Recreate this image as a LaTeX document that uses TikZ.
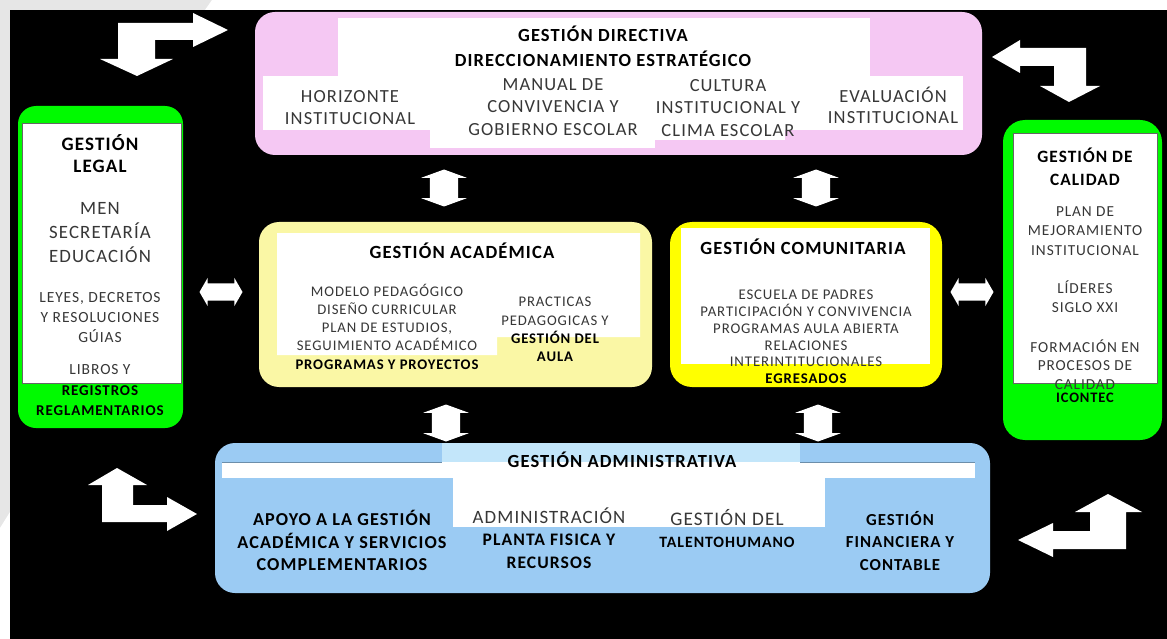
\documentclass[tikz,border=0pt]{standalone}
\usepackage{fontspec}
\setmainfont{Carlito}[LetterSpace=6]
\usetikzlibrary{shapes.arrows}
\newcommand\fsz[2]{\fontsize{#1}{#2}\selectfont}
\definecolor{dirpink}{RGB}{245,200,243}
\definecolor{calgreen}{RGB}{0,250,0}
\definecolor{acayellow}{RGB}{250,247,165}
\definecolor{comyellow}{RGB}{255,255,0}
\definecolor{admblue}{RGB}{155,203,243}
\definecolor{admband}{RGB}{195,230,250}
\definecolor{framegray}{RGB}{230,230,230}
\definecolor{txtgray}{RGB}{55,55,55}
\tikzset{
	lbl/.style={align=center, inner sep=0pt, text=txtgray},
	hdlbl/.style={align=center, inner sep=0pt, text=black, font=\bfseries#1},
	vdarrow/.style={double arrow, fill=white, rotate=90, minimum height=37pt, inner xsep=0pt, inner ysep=14pt, double arrow head extend=8.5pt, double arrow tip angle=140},
	hdarrow/.style={double arrow, fill=white, minimum height=43pt, inner xsep=0pt, inner ysep=8.5pt, double arrow head extend=5.5pt, double arrow tip angle=120}
}

\begin{document}
\begin{tikzpicture}[x=1pt, y=-1pt]
		%%%%% START %%%%%
		\useasboundingbox (0,0) rectangle (1167,639);
		\fill[framegray] (0,0) rectangle (1167,639);
		\fill[white] (205,10) -- (212,0) -- (1167,0) -- (1167,10) -- cycle;
		\fill[white] (0,528) -- (10,512) -- (10,639) -- (0,639) -- cycle;
		\fill[black] (10,10) rectangle (1167,639);
		
		% gestion directiva
		\fill[dirpink, rounded corners=20pt] (255,12) rectangle (982,155);
		\fill[white] (338,18) rectangle (870,80);
		\fill[white] (263,76) rectangle (963,130);
		\fill[white] (430,128) rectangle (655,148);
		\fill[white] (655,128) rectangle (785,140);
		\node[hdlbl=\fsz{18.5}{25}] (dirtitle) at (603,46.5) {GESTIÓN DIRECTIVA\\DIRECCIONAMIENTO ESTRATÉGICO};
		\node[lbl, font=\fsz{18.5}{22}] (dirhorizonte) at (350,108) {HORIZONTE\\INSTITUCIONAL};
		\node[lbl, font=\fsz{18.5}{22.5}] (dirmanual) at (553,107) {MANUAL DE\\CONVIVENCIA Y\\GOBIERNO ESCOLAR};
		\node[lbl, font=\fsz{18.5}{22.5}] (dircultura) at (728,108) {CULTURA\\INSTITUCIONAL Y\\CLIMA ESCOLAR};
		\node[lbl, font=\fsz{18.5}{21}] (direvaluacion) at (893,105.5) {EVALUACIÓN\\INSTITUCIONAL};
		
		% gestion legal
		\fill[calgreen, rounded corners=18pt] (18,106) rectangle (183,428);
		\draw[fill=white, draw=black!60] (22,123) rectangle (181,383);
		\node[hdlbl=\fsz{19}{22}] (legalhd) at (100,154) {GESTIÓN\\LEGAL};
		\node[lbl, font=\fsz{18.8}{24}] (legalmen) at (100,233) {MEN\\SECRETARÍA\\EDUCACIÓN};
		\node[lbl, font=\fsz{15.5}{20}] (legalleyes) at (100,318) {LEYES, DECRETOS\\Y RESOLUCIONES\\GÚIAS};
		\node[lbl, font=\fsz{15.5}{20}] (legallibros) at (100,370) {LIBROS Y};
		\node[hdlbl=\fsz{15}{20}] (legalreg) at (100,401) {REGISTROS\\REGLAMENTARIOS};
		
		% gestion de calidad
		\fill[calgreen, rounded corners=22pt] (1003,120) rectangle (1162,440);
		\draw[fill=white, draw=black!60] (1013,133) rectangle (1157,383);
		\node[hdlbl=\fsz{17.3}{23}] (calhd) at (1085,166.5) {GESTIÓN DE\\CALIDAD};
		\node[lbl, font=\fsz{15.3}{19.5}] (calplan) at (1085,231) {PLAN DE\\MEJORAMIENTO\\INSTITUCIONAL};
		\node[lbl, font=\fsz{15.3}{19}] (callideres) at (1085,296.5) {LÍDERES\\SIGLO XXI};
		\node[lbl, font=\fsz{15.3}{18.5}] (calformacion) at (1085,364.5) {FORMACIÓN EN\\PROCESOS DE\\CALIDAD};
		\node[hdlbl=\fsz{14.5}{19}] (calicontec) at (1085,398) {ICONTEC};
		
		% gestion academica
		\fill[acayellow, rounded corners=20pt] (259,222) rectangle (652,387);
		\fill[white] (277,233) -- (640,233) -- (640,337) -- (497,337) -- (497,355) -- (277,355) -- cycle;
		\node[hdlbl=\fsz{18.6}{20}] (acahd) at (462,251) {GESTIÓN ACADÉMICA};
		\node[lbl, font=\fsz{14.7}{18.25}] (acalist) at (387,326.5) {MODELO PEDAGÓGICO\\DISEÑO CURRICULAR\\PLAN DE ESTUDIOS,\\SEGUIMIENTO ACADÉMICO\\\textcolor{black}{\bfseries PROGRAMAS Y PROYECTOS}};
		\node[lbl, font=\fsz{14.7}{18.3}] (acapracticas) at (555,329.5) {PRACTICAS\\PEDAGOGICAS Y\\\textcolor{black}{\bfseries GESTIÓN DEL}\\\textcolor{black}{\bfseries AULA}};
		
		% gestion comunitaria
		\fill[comyellow, rounded corners=22pt] (670,222) rectangle (942,387);
		\fill[white] (681,228) rectangle (930,364);
		\node[hdlbl=\fsz{18.6}{20}] (comhd) at (803,247) {GESTIÓN COMUNITARIA};
		\node[lbl, font=\fsz{14.8}{16.8}] (comlist) at (806,337) {ESCUELA DE PADRES\\PARTICIPACIÓN Y CONVIVENCIA\\PROGRAMAS AULA ABIERTA\\RELACIONES\\INTERINTITUCIONALES\\\textcolor{black}{\bfseries EGRESADOS}};
		
		% gestion administrativa
		\fill[admblue, rounded corners=20pt] (215,443) rectangle (990,593);
		\fill[admband] (442,443) rectangle (800,462);
		\fill[white] (222,462) rectangle (975,478);
		\draw[admblue!70!black] (222,462) -- (442,462) (800,462) -- (975,462);
		\fill[white] (453,478) rectangle (825,527);
		\node[hdlbl=\fsz{18.5}{20}] (admhd) at (622,460) {GESTIÓN ADMINISTRATIVA};
		\node[hdlbl=\fsz{18.2}{22.5}] (admapoyo) at (342,540.5) {APOYO A LA GESTIÓN\\ACADÉMICA Y SERVICIOS\\COMPLEMENTARIOS};
		\node[lbl, font=\fsz{18.8}{22.5}] (admplanta) at (549,538) {ADMINISTRACIÓN\\\textcolor{black}{\bfseries\fsz{17.6}{22.5}PLANTA FISICA Y}\\\textcolor{black}{\bfseries\fsz{17.6}{22.5}RECURSOS}};
		\node[lbl, font=\fsz{19.2}{22}] (admtalento) at (727,529) {GESTIÓN DEL\\\textcolor{black}{\bfseries\fsz{15.8}{22}TALENTOHUMANO}};
		\node[hdlbl=\fsz{16.8}{22.5}] (admfinanciera) at (900,540.5) {GESTIÓN\\FINANCIERA Y\\CONTABLE};
		
		% flechas dobles
		\node[vdarrow] (arrdiraca) at (444,188) {};
		\node[vdarrow] (arrdircom) at (816,188) {};
		\node[vdarrow] (arracaadm) at (446,423) {};
		\node[vdarrow] (arrcomadm) at (818,423) {};
		\node[hdarrow] (arrlegaca) at (221,292) {};
		\node[hdarrow] (arrcomcal) at (972,292) {};
		
		% flechas en esquina
		\fill[white] (118,23) -- (193,23) -- (193,13) -- (228,30) -- (193,47) -- (193,40) -- (155,40) -- (155,59) -- (173,59) -- (137,76) -- (100,59) -- (118,59) -- cycle;
		\fill[white] (992,57) -- (1020,40) -- (1020,48) -- (1086,48) -- (1086,86) -- (1100,86) -- (1069,102) -- (1040,86) -- (1054,86) -- (1054,66) -- (1020,66) -- (1020,73) -- cycle;
		\fill[white] (117,468) -- (147,485) -- (133,485) -- (133,505) -- (167,505) -- (167,497) -- (197,514) -- (167,531) -- (167,522) -- (102,522) -- (102,485) -- (88,485) -- cycle;
		\fill[white] (1108,494) -- (1142,512) -- (1126,512) -- (1126,549) -- (1053,549) -- (1053,557) -- (1018,540) -- (1053,523) -- (1053,531) -- (1090,531) -- (1090,512) -- (1075,512) -- cycle;
		%%%%% END %%%%%
\end{tikzpicture}
\end{document}
